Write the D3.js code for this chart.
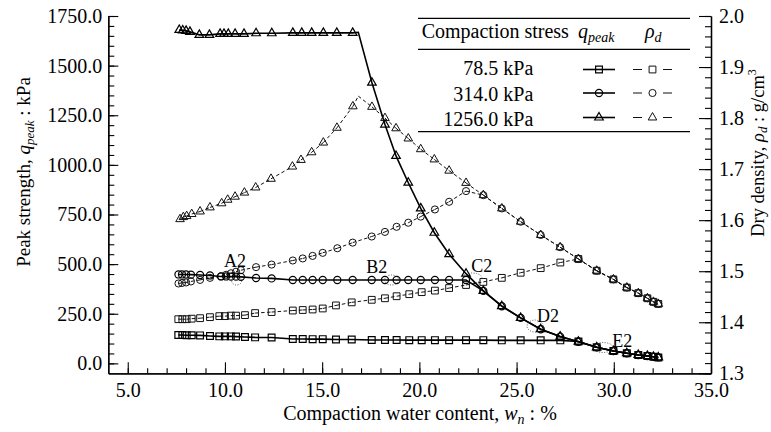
<!DOCTYPE html>
<html><head><meta charset="utf-8">
<script src="https://cdn.jsdelivr.net/npm/d3@7/dist/d3.min.js"></script>
<style>
body{margin:0;background:#fff;}
svg{display:block;}
svg text{font-family:"Liberation Serif","Times New Roman",serif;}
</style></head>
<body>
<script>
// ---------------- DATA ----------------
// 78.5 kPa (squares)
const w785 = [7.60,7.81,8.03,8.29,8.72,9.23,9.71,10.00,10.30,10.57,11.03,11.55,12.40,13.49,14.00,14.51,15.03,15.71,16.52,17.55,18.23,18.83,19.48,20.12,20.80,21.53,22.40,23.29,24.24,25.21,26.24,27.25,28.18,29.12,29.98,30.67,31.26,31.73,32.04,32.29];
const q785 = [143,143,142,142,141,138,136,136,136,135,133,131,130,123,123,122,122,120,120,118,118,118,117,117,117,117,117,117,116,116,116,116,110,81,62,51,42,37,33,30];
const rho785 = [1.406,1.406,1.406,1.407,1.408,1.410,1.412,1.412,1.413,1.413,1.414,1.418,1.420,1.423,1.424,1.425,1.427,1.433,1.439,1.444,1.447,1.451,1.455,1.459,1.462,1.467,1.473,1.479,1.487,1.497,1.506,1.517,1.524,1.501,1.484,1.468,1.457,1.447,1.440,1.436];
// 314.0 kPa (circles)
const w314 = [7.61,7.79,8.00,8.25,8.72,9.23,9.80,10.06,10.31,10.57,10.82,11.60,12.40,13.49,14.00,14.51,15.03,15.78,16.57,17.55,18.23,18.83,19.43,20.07,20.80,21.53,22.40,23.29,24.24,25.21,26.24,27.24,28.18,29.12,29.98,30.67,31.26,31.73,32.04,32.29];
const q314 = [448,448,448,447,445,443,438,438,437,437,436,430,428,420,420,420,420,420,420,420,420,420,420,420,420,420,420,365,288,229,172,135,109,81,62,51,42,37,33,30];
const rho314 = [1.476,1.477,1.478,1.480,1.483,1.487,1.490,1.493,1.496,1.499,1.502,1.508,1.513,1.521,1.525,1.530,1.536,1.545,1.556,1.568,1.577,1.587,1.595,1.607,1.621,1.636,1.657,1.649,1.623,1.597,1.571,1.547,1.524,1.501,1.484,1.468,1.457,1.447,1.440,1.436];
// 1256.0 kPa (triangles)
const wq1256 = [7.65,7.83,8.00,8.20,8.68,9.20,9.75,9.95,10.17,10.52,10.98,11.60,12.41,13.49,13.95,14.46,15.06,15.75,16.57,17.56,18.23,18.80,19.43,20.07,20.77,21.53,22.40,23.29,24.24,25.21,26.24,27.24,28.18,29.12,29.98,30.67,31.26,31.73,32.04,32.29];
const q1256 = [1680,1677,1675,1670,1655,1655,1660,1660,1660,1660,1660,1663,1663,1665,1665,1665,1665,1665,1665,1414,1203,1045,910,781,658,550,452,365,288,229,172,135,109,81,62,51,42,37,33,30];
const wr1256 = [7.69,7.86,8.03,8.29,8.72,9.23,9.83,10.14,10.52,11.00,11.58,12.37,13.47,13.91,14.46,15.06,15.76,16.58,17.56,18.23,18.80,19.43,20.07,20.77,21.53,22.40,23.29,24.24,25.21,26.24,27.24,28.18,29.12,29.98,30.67,31.26,31.73,32.04,32.29];
const rho1256 = [1.602,1.606,1.608,1.612,1.617,1.625,1.633,1.640,1.646,1.654,1.664,1.681,1.705,1.718,1.733,1.752,1.781,1.823,1.822,1.800,1.780,1.760,1.739,1.719,1.697,1.673,1.649,1.623,1.597,1.571,1.547,1.524,1.501,1.484,1.468,1.457,1.447,1.440,1.436];
// optimum vertex of the 1256 kPa curves (line vertex, no marker)
const opt1256 = {w:16.86, q:1668, rho:1.843};

const stressLabels = ["78.5 kPa","314.0 kPa","1256.0 kPa"];
const xTicks = [5,10,15,20,25,30,35];
const yLTicks = [0,250,500,750,1000,1250,1500,1750];
const yRTicks = [1.3,1.4,1.5,1.6,1.7,1.8,1.9,2.0];
const notes = [
  {t:"A2", w:10.52, q:486, ew:10.60, eq:415, rx:5, ry:4},
  {t:"B2", w:17.81, q:455, ew:18.57, eq:420, rx:7, ry:5},
  {t:"C2", w:23.21, q:460, ew:22.71, eq:430, rx:10, ry:5},
  {t:"D2", w:26.62, q:209, ew:25.95, eq:188, rx:8, ry:6},
  {t:"E2", w:30.43, q:83,  ew:29.45, eq:80,  rx:10, ry:5}
];

// ---------------- CHART ----------------
const W=771,H=432, L=108.3, R=711, T=16, B=373.3;
const FF='"Liberation Serif","Times New Roman",serif';
const svg=d3.select("body").append("svg").attr("width",W).attr("height",H).attr("font-family",FF);
const x=d3.scaleLinear().domain([4,35]).range([L,R]);
const yL=d3.scaleLinear().domain([-50,1750]).range([B,T]);
const yR=d3.scaleLinear().domain([1.3,2.0]).range([B,T]);
const FS=20;

function styleAxis(g){
  g.attr("font-family",FF);
  g.selectAll("path").attr("stroke","#000").attr("stroke-width",1.3);
  g.selectAll("line").attr("stroke","#000").attr("stroke-width",1.1);
  g.selectAll("text").attr("font-family",FF).attr("font-size",FS).attr("fill","#000");
}
// minor ticks
const minX=d3.range(5,36,1), minL=d3.range(0,1751,50), minR=d3.range(1.3,2.001,0.02);
svg.append("g").attr("transform",`translate(0,${B})`).call(d3.axisBottom(x).tickValues(minX).tickSize(-5).tickSizeOuter(0).tickFormat("")).call(styleAxis);
svg.append("g").attr("transform",`translate(${L},0)`).call(d3.axisLeft(yL).tickValues(minL).tickSize(-6).tickSizeOuter(0).tickFormat("")).call(styleAxis);
svg.append("g").attr("transform",`translate(${R},0)`).call(d3.axisRight(yR).tickValues(minR).tickSize(-6).tickSizeOuter(0).tickFormat("")).call(styleAxis);
// major
svg.append("g").attr("transform",`translate(0,${B})`).call(d3.axisBottom(x).tickValues(xTicks).tickSize(-11).tickSizeOuter(0).tickPadding(10).tickFormat(d3.format(".1f"))).call(styleAxis);
svg.append("g").attr("transform",`translate(${L},0)`).call(d3.axisLeft(yL).tickValues(yLTicks).tickSize(-10).tickSizeOuter(0).tickPadding(6).tickFormat(d3.format(".1f"))).call(styleAxis);
svg.append("g").attr("transform",`translate(${R},0)`).call(d3.axisRight(yR).tickValues(yRTicks).tickSize(-12).tickSizeOuter(0).tickPadding(8).tickFormat(d3.format(".1f"))).call(styleAxis);

// axis titles
const xt=svg.append("text").attr("x",420).attr("y",420).attr("text-anchor","middle").attr("font-size",FS);
xt.append("tspan").text("Compaction water content, ");
xt.append("tspan").attr("font-style","italic").text("w");
xt.append("tspan").attr("font-style","italic").attr("font-size",14).attr("dy",4).text("n");
xt.append("tspan").attr("dy",-4).text(" : %");

const ylt=svg.append("text").attr("transform","translate(30,172) rotate(-90)").attr("text-anchor","middle").attr("font-size",19);
ylt.append("tspan").text("Peak strength, ");
ylt.append("tspan").attr("font-style","italic").text("q");
ylt.append("tspan").attr("font-style","italic").attr("font-size",13).attr("dy",4).text("peak");
ylt.append("tspan").attr("dy",-4).text(" : kPa");

const yrt=svg.append("text").attr("transform","translate(764,153) rotate(-90)").attr("text-anchor","middle").attr("font-size",18.5);
yrt.append("tspan").text("Dry density, ");
yrt.append("tspan").attr("font-style","italic").text("ρ");
yrt.append("tspan").attr("font-style","italic").attr("font-size",13).attr("dy",3).text("d");
yrt.append("tspan").attr("dy",-3).text(" : g/cm");
yrt.append("tspan").attr("font-size",12).attr("dy",-8).text("3");

// series
const symT={sq:d3.symbolSquare, ci:d3.symbolCircle, tr:d3.symbolTriangle};
const symS={sq:46, ci:40, tr:32};
const lineQ=d3.line().x(d=>x(d[0])).y(d=>yL(d[1]));
const lineR=d3.line().x(d=>x(d[0])).y(d=>yR(d[1]));
function zip(a,b){return a.map((v,i)=>[v,b[i]]);}
function insertSorted(arr,p){return arr.concat([p]).sort((a,b)=>a[0]-b[0]);}
const series=[
  {w:w785,q:q785,wr:w785,r:rho785,s:"sq"},
  {w:w314,q:q314,wr:w314,r:rho314,s:"ci"},
  {w:wq1256,q:q1256,wr:wr1256,r:rho1256,s:"tr",opt:opt1256}
];
const gl=svg.append("g"), gm=svg.append("g");
series.forEach(sr=>{
  let pq=zip(sr.w,sr.q), pr=zip(sr.wr,sr.r);
  let lq=pq, lr=pr;
  if(sr.opt){lq=insertSorted(pq,[sr.opt.w,sr.opt.q]); lr=insertSorted(pr,[sr.opt.w,sr.opt.rho]);}
  d3.pairs(lr).forEach(seg=>{
    gl.append("path").attr("d",lineR(seg)).attr("fill","none").attr("stroke","#111").attr("stroke-width",1).attr("stroke-dasharray","3.5,2.5");
  });
  gl.append("path").attr("d",lineQ(lq)).attr("fill","none").attr("stroke","#000").attr("stroke-width",1.6);
  const sym=d3.symbol().type(symT[sr.s]).size(symS[sr.s]);
  gm.selectAll(null).data(pr).enter().append("path").attr("d",sym)
    .attr("transform",d=>`translate(${x(d[0])},${yR(d[1])})`).attr("fill","none").attr("stroke","#111").attr("stroke-width",1);
  gm.selectAll(null).data(pq).enter().append("path").attr("d",sym)
    .attr("transform",d=>`translate(${x(d[0])},${yL(d[1])})`).attr("fill","none").attr("stroke","#000").attr("stroke-width",1.2);
});

// annotations
notes.forEach(n=>{
  svg.append("ellipse").attr("cx",x(n.ew)).attr("cy",yL(n.eq)).attr("rx",n.rx).attr("ry",n.ry)
    .attr("fill","none").attr("stroke","#333").attr("stroke-width",0.8).attr("stroke-dasharray","1,1.5");
  svg.append("text").attr("x",x(n.w)).attr("y",yL(n.q)).attr("text-anchor","middle").attr("font-size",18).text(n.t);
});

// legend (table)
const lg=svg.append("g");
lg.append("rect").attr("x",418).attr("y",18).attr("width",272).attr("height",114).attr("fill","#fff");
[18.3,49.3,131.7].forEach(yy=>lg.append("line").attr("x1",418).attr("x2",690).attr("y1",yy).attr("y2",yy).attr("stroke","#000").attr("stroke-width",1.3));
lg.append("text").attr("x",421.7).attr("y",38.3).attr("font-size",FS).text("Compaction stress");
const h1=lg.append("text").attr("x",578).attr("y",38.3).attr("font-size",FS).attr("font-style","italic");
h1.append("tspan").text("q"); h1.append("tspan").attr("font-size",14).attr("dy",4).text("peak");
const h2=lg.append("text").attr("x",645).attr("y",38.3).attr("font-size",FS).attr("font-style","italic");
h2.append("tspan").text("ρ"); h2.append("tspan").attr("font-size",14).attr("dy",4).text("d");
const rowsY=[75,100.5,126], symY=[69.5,93,117.5];
series.forEach((sr,i)=>{
  lg.append("text").attr("x",533.3).attr("y",rowsY[i]).attr("text-anchor","end").attr("font-size",FS).text(stressLabels[i]);
  const sym=d3.symbol().type(symT[sr.s]).size(symS[sr.s]);
  lg.append("line").attr("x1",583).attr("x2",615).attr("y1",symY[i]).attr("y2",symY[i]).attr("stroke","#000").attr("stroke-width",1.6);
  lg.append("path").attr("d",sym).attr("transform",`translate(599,${symY[i]})`).attr("fill","none").attr("stroke","#000").attr("stroke-width",1.2);
  lg.append("line").attr("x1",633).attr("x2",642).attr("y1",symY[i]).attr("y2",symY[i]).attr("stroke","#111").attr("stroke-width",1);
  lg.append("line").attr("x1",663).attr("x2",672).attr("y1",symY[i]).attr("y2",symY[i]).attr("stroke","#111").attr("stroke-width",1);
  lg.append("path").attr("d",sym).attr("transform",`translate(652.5,${symY[i]})`).attr("fill","none").attr("stroke","#111").attr("stroke-width",1);
});
</script>
</body></html>
